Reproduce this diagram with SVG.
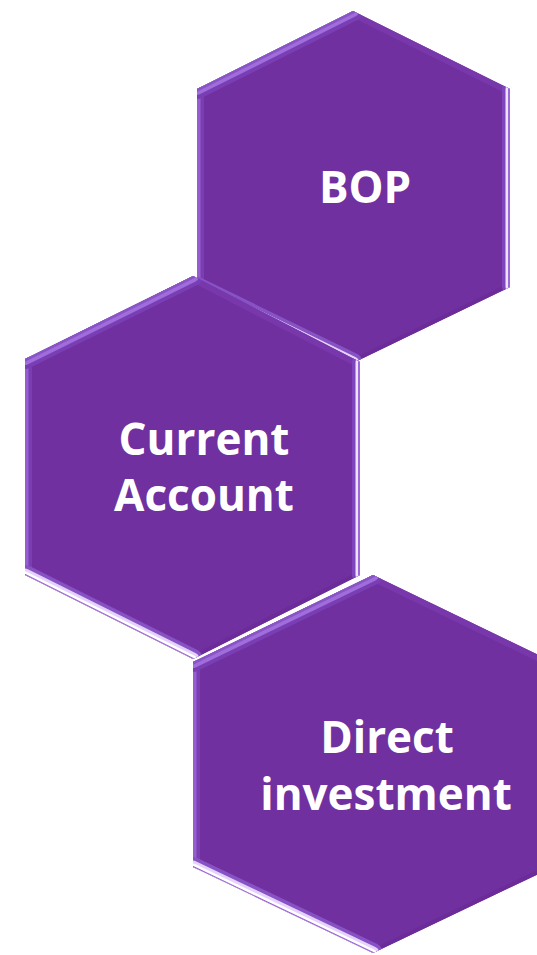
<svg xmlns="http://www.w3.org/2000/svg" width="537" height="955" viewBox="0 0 537 955">
<defs>
<clipPath id="c1"><polygon points="353,11 510,89 510,287 353,363 197,287 197,89"/></clipPath>
<clipPath id="c2"><polygon points="193,276 360,362 360,575 193,659 25,575 25,359"/></clipPath>
<clipPath id="c3"><polygon points="373,575 553,662 553,867 373,953 193,867 193,662"/></clipPath>
</defs>
<style>
.hex{fill:#7030a0}
.t{font-family:"Open Sans","Noto Sans","Liberation Sans",sans-serif;font-weight:700;fill:#ffffff;text-anchor:middle;font-size:44px}
line{stroke-linecap:round}
.ul1{stroke:#7a3eb4;stroke-width:20}.ul2{stroke:#a06ddc;stroke-width:12}.ul3{stroke:#8954c4;stroke-width:5}
.bl1{stroke:#8652c4;stroke-width:20}.bl2{stroke:#e6d2ff;stroke-width:13}.bl3{stroke:#ffffff;stroke-width:7}.bl4{stroke:#9a62d2;stroke-width:2}
.r1{stroke:#7e44bc;stroke-width:16}.r2{stroke:#efe2ff;stroke-width:9}.r3{stroke:#9c68da;stroke-width:4}
.l1{stroke:#7a3eb3;stroke-width:14}.l2{stroke:#955dd0;stroke-width:7}
.ur1{stroke:#7838ab;stroke-width:12}
.lr1{stroke:#6b2c99;stroke-width:8}
</style>
<g id="hex-bop">
<polygon class="hex" points="353,11 510,89 510,287 353,363 197,287 197,89"/>
<g clip-path="url(#c1)">
<line class="ur1" x1="353" y1="11" x2="510" y2="89"/>
<line class="lr1" x1="510" y1="287" x2="353" y2="363"/>
<line class="l1" x1="197" y1="89" x2="197" y2="287"/><line class="l2" x1="197" y1="89" x2="197" y2="287"/>
<line class="ul1" x1="197" y1="89" x2="353" y2="11"/><line class="ul2" x1="197" y1="89" x2="353" y2="11"/><line class="ul3" x1="197" y1="89" x2="353" y2="11"/>
<line class="r1" x1="510" y1="89" x2="510" y2="287"/><line class="r2" x1="510" y1="89" x2="510" y2="287"/><line class="r3" x1="510" y1="89" x2="510" y2="287"/>
<line class="bl1" x1="197" y1="287" x2="353" y2="363"/><line class="bl2" x1="197" y1="287" x2="353" y2="363"/><line class="bl3" x1="197" y1="287" x2="353" y2="363"/><line class="bl4" x1="197" y1="287" x2="353" y2="363"/>
</g>
<text class="t" x="365" y="203">BOP</text>
</g>
<g id="hex-current-account">
<polygon class="hex" points="193,276 360,362 360,575 193,659 25,575 25,359"/>
<g clip-path="url(#c2)">
<line class="ur1" x1="193" y1="276" x2="360" y2="362"/>
<line class="lr1" x1="360" y1="575" x2="193" y2="659"/>
<line class="l1" x1="25" y1="359" x2="25" y2="575"/><line class="l2" x1="25" y1="359" x2="25" y2="575"/>
<line class="ul1" x1="25" y1="359" x2="193" y2="276"/><line class="ul2" x1="25" y1="359" x2="193" y2="276"/><line class="ul3" x1="25" y1="359" x2="193" y2="276"/>
<line class="r1" x1="360" y1="362" x2="360" y2="575"/><line class="r2" x1="360" y1="362" x2="360" y2="575"/><line class="r3" x1="360" y1="362" x2="360" y2="575"/>
<line class="bl1" x1="25" y1="575" x2="193" y2="659"/><line class="bl2" x1="25" y1="575" x2="193" y2="659"/><line class="bl3" x1="25" y1="575" x2="193" y2="659"/><line class="bl4" x1="25" y1="575" x2="193" y2="659"/>
</g>
<text class="t" x="204" y="455">Current</text>
<text class="t" x="204" y="511">Account</text>
</g>
<g id="hex-direct-investment">
<polygon class="hex" points="373,575 553,662 553,867 373,953 193,867 193,662"/>
<g clip-path="url(#c3)">
<line class="ur1" x1="373" y1="575" x2="553" y2="662"/>
<line class="lr1" x1="553" y1="867" x2="373" y2="953"/>
<line class="l1" x1="193" y1="662" x2="193" y2="867"/><line class="l2" x1="193" y1="662" x2="193" y2="867"/>
<line class="ul1" x1="193" y1="662" x2="373" y2="575"/><line class="ul2" x1="193" y1="662" x2="373" y2="575"/><line class="ul3" x1="193" y1="662" x2="373" y2="575"/>
<line class="bl1" x1="193" y1="867" x2="373" y2="953"/><line class="bl2" x1="193" y1="867" x2="373" y2="953"/><line class="bl3" x1="193" y1="867" x2="373" y2="953"/><line class="bl4" x1="193" y1="867" x2="373" y2="953"/>
</g>
<text class="t" x="387" y="753">Direct</text>
<text class="t" x="386" y="810">investment</text>
</g>
<g id="connectors"></g>
</svg>
